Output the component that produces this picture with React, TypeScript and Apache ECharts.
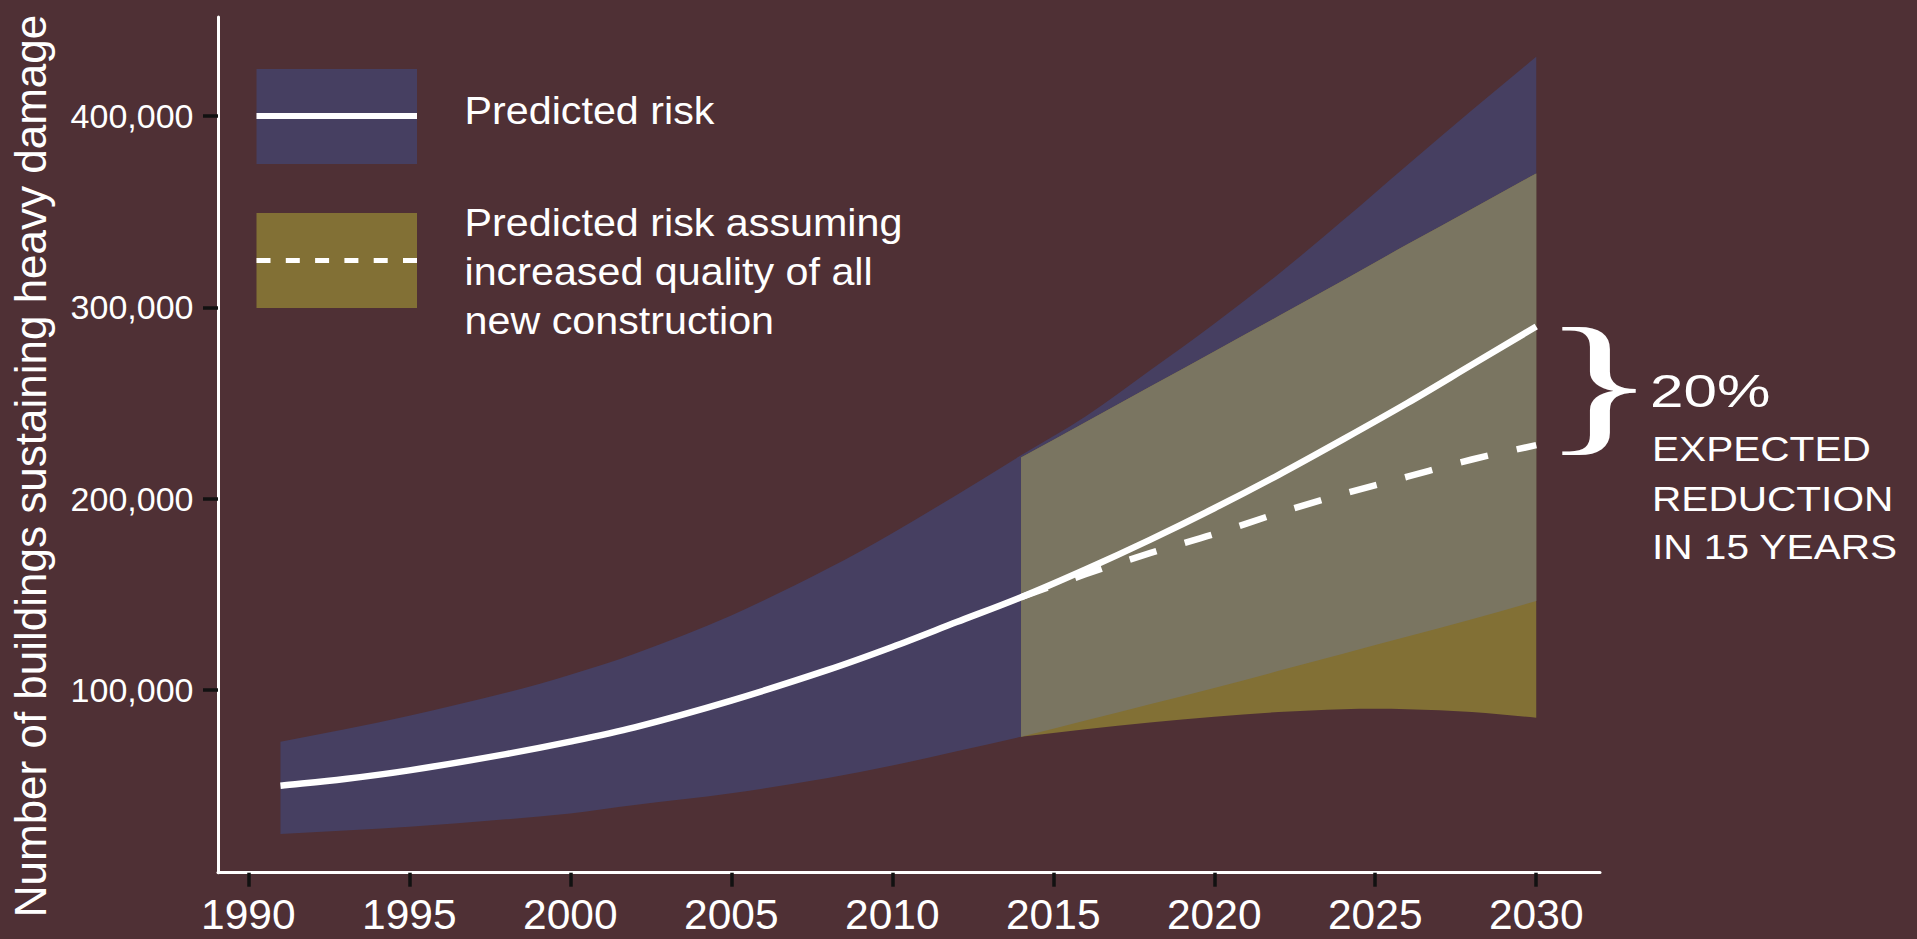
import React, { useEffect, useRef } from "react";
import * as echarts from "echarts";

// ---------- data ----------
const riskYears = [1991, 1993, 1995, 1998, 2000, 2002, 2005, 2008, 2010, 2012, 2014, 2016, 2018, 2020, 2022, 2024, 2026, 2028, 2030];
const riskMid = [50000, 53500, 58000, 66500, 73000, 80500, 94500, 110500, 122500, 135500, 148500, 163000, 178500, 195000, 212500, 231000, 250000, 270000, 290000];
const riskLower = [24700, 26500, 28500, 32400, 35500, 39900, 46000, 54000, 60500, 68000, 75500, 84000, 92500, 101000, 110000, 119000, 128000, 137000, 146500];
const riskUpper = [73000, 79500, 86500, 98500, 108000, 119000, 139000, 163500, 182000, 202000, 222700, 243000, 267000, 291500, 317500, 345500, 374500, 403000, 431000];

const improvedYears = [2014, 2016, 2018, 2020, 2022, 2024, 2026, 2028, 2030];
const improvedMid = [148500, 160500, 171500, 181500, 192500, 202500, 211500, 220500, 228000];
const improvedLower = [75500, 79500, 83000, 86000, 88500, 90000, 90000, 88500, 85500];
const improvedUpper = [221500, 240000, 258500, 277000, 295500, 314000, 333000, 351500, 370000];

const xTickValues = [1990, 1995, 2000, 2005, 2010, 2015, 2020, 2025, 2030];
const yTickValues = [100000, 200000, 300000, 400000];

const Y_TITLE = "Number of buildings sustaining heavy damage";
const LEGEND_RISK = "Predicted risk";
const LEGEND_IMPROVED = ["Predicted risk assuming", "increased quality of all", "new construction"];
const NOTE_PCT = "20%";
const NOTE_LINES = ["EXPECTED", "REDUCTION", "IN 15 YEARS"];

// ---------- styles ----------
const BG = "#4F3035";
const BLUE = "#463F61";
const OLIVE = "#827035";
const GREY = "#7A7561";
const SANS = '"Liberation Sans", Arimo, Helvetica, Arial, sans-serif';
const SERIF = '"Liberation Serif", "DejaVu Serif", Times, serif';

// overlap of the two bands, derived from the band arrays
const overlapLower = improvedYears.map((y, i) => Math.max(riskLower[riskYears.indexOf(y)], improvedLower[i]));
const overlapUpper = improvedYears.map((y, i) => Math.min(riskUpper[riskYears.indexOf(y)], improvedUpper[i]));

type Pt = number[];

function slopes(pts: Pt[]): number[] {
  const n = pts.length;
  return pts.map((p, i) => {
    const a = pts[Math.max(0, i - 1)];
    const b = pts[Math.min(n - 1, i + 1)];
    return (b[1] - a[1]) / (b[0] - a[0]);
  });
}

// smooth curve through screen points (left -> right)
function curve(pts: Pt[], start: "M" | "L"): string {
  const m = slopes(pts);
  let d = `${start}${pts[0][0]} ${pts[0][1]}`;
  for (let i = 0; i < pts.length - 1; i++) {
    const [x1, y1] = pts[i];
    const [x2, y2] = pts[i + 1];
    const h = x2 - x1;
    d += ` C${x1 + h / 3} ${y1 + (m[i] * h) / 3} ${x2 - h / 3} ${y2 - (m[i + 1] * h) / 3} ${x2} ${y2}`;
  }
  return d;
}

// same curve, traversed right -> left
function reverseCurve(pts: Pt[]): string {
  const m = slopes(pts);
  const n = pts.length;
  let d = `L${pts[n - 1][0]} ${pts[n - 1][1]}`;
  for (let i = n - 1; i > 0; i--) {
    const [x2, y2] = pts[i];
    const [x1, y1] = pts[i - 1];
    const h = x2 - x1;
    d += ` C${x2 - h / 3} ${y2 - (m[i] * h) / 3} ${x1 + h / 3} ${y1 + (m[i - 1] * h) / 3} ${x1} ${y1}`;
  }
  return d;
}

function bandSeries(name: string, xs: number[], lo: number[], hi: number[], color: string) {
  return {
    type: "custom",
    name,
    silent: true,
    data: xs.map((x, i) => [x, lo[i], hi[i]]),
    encode: { x: 0, y: [1, 2] },
    renderItem: (params: any, api: any) => {
      if (params.dataIndex !== 0) return null;
      const top = xs.map((x, i) => api.coord([x, hi[i]]));
      const bot = xs.map((x, i) => api.coord([x, lo[i]]));
      return {
        type: "path",
        shape: { pathData: curve(top, "M") + " " + reverseCurve(bot) + " Z" },
        style: { fill: color, stroke: "none" },
      };
    },
  };
}

function lineSeries(name: string, xs: number[], ys: number[], dash: number[] | null) {
  return {
    type: "custom",
    name,
    silent: true,
    data: xs.map((x, i) => [x, ys[i]]),
    encode: { x: 0, y: 1 },
    renderItem: (params: any, api: any) => {
      if (params.dataIndex !== 0) return null;
      const pts = xs.map((x, i) => api.coord([x, ys[i]]));
      return {
        type: "path",
        shape: { pathData: curve(pts, "M") },
        style: {
          fill: "none",
          stroke: "#FFFFFF",
          lineWidth: 6.5,
          lineDash: dash || undefined,
          lineCap: "butt",
        },
      };
    },
  };
}

function text(t: string, x: number, y: number, size: number, extra: any = {}, styleExtra: any = {}) {
  return {
    type: "text",
    x,
    y,
    silent: true,
    ...extra,
    style: {
      text: t,
      fill: "#FFFFFF",
      fontSize: size,
      fontFamily: SANS,
      align: "left",
      verticalAlign: "middle",
      textAlign: "left",
      textVerticalAlign: "middle",
      ...styleExtra,
    },
  };
}

export default function App() {
  const ref = useRef<HTMLDivElement>(null);
  useEffect(() => {
    document.body.style.margin = "0";
    document.body.style.background = BG;
    document.body.style.overflow = "hidden";
    const chart = echarts.init(ref.current!, null, { renderer: "svg" });
    const option: any = {
      animation: false,
      backgroundColor: BG,
      grid: { left: 218, right: 317, top: 17, bottom: 66.3, containLabel: false, outerBoundsMode: "none" },
      xAxis: {
        type: "value",
        min: 1989.06,
        max: 2031.98,
        axisLine: { show: true, onZero: false, lineStyle: { color: "#FFFFFF", width: 3 } },
        axisTick: { show: true, customValues: xTickValues, length: 14, lineStyle: { color: "#111111", width: 3.5 } },
        axisLabel: {
          customValues: xTickValues,
          margin: 26.5,
          lineHeight: 30,
          fontSize: 42.5,
          fontFamily: SANS,
          color: "#FFFFFF",
          formatter: (v: number) => String(Math.round(v)),
        },
        splitLine: { show: false },
      },
      yAxis: {
        type: "value",
        min: 4500,
        max: 451800,
        axisLine: { show: true, onZero: false, lineStyle: { color: "#FFFFFF", width: 3 } },
        axisTick: { show: true, customValues: yTickValues, length: 15, lineStyle: { color: "#111111", width: 3.5 } },
        axisLabel: {
          customValues: yTickValues,
          margin: 24.5,
          fontSize: 34,
          fontFamily: SANS,
          color: "#FFFFFF",
          formatter: (v: number) => Math.round(v).toLocaleString("en-US"),
        },
        splitLine: { show: false },
      },
      series: [
        bandSeries("Predicted risk band", riskYears, riskLower, riskUpper, BLUE),
        bandSeries("Improved construction band", improvedYears, improvedLower, improvedUpper, OLIVE),
        bandSeries("Overlap", improvedYears, overlapLower, overlapUpper, GREY),
        lineSeries("Predicted risk", riskYears, riskMid, null),
        lineSeries("Predicted risk assuming increased quality", improvedYears, improvedMid, [28, 29.5]),
      ],
      graphic: [
        text(Y_TITLE, 30, 466, 44, { rotation: Math.PI / 2 }, { align: "center", textAlign: "center" }),
        { type: "rect", silent: true, shape: { x: 256.5, y: 69, width: 160.5, height: 95 }, style: { fill: BLUE } },
        { type: "line", silent: true, shape: { x1: 256.5, y1: 116, x2: 417, y2: 116 }, style: { stroke: "#FFFFFF", lineWidth: 6 } },
        { type: "rect", silent: true, shape: { x: 256.5, y: 213, width: 160.5, height: 95 }, style: { fill: OLIVE } },
        { type: "line", silent: true, shape: { x1: 256.5, y1: 260.5, x2: 417, y2: 260.5 }, style: { stroke: "#FFFFFF", lineWidth: 5, lineDash: [14, 15.3] } },
        text(LEGEND_RISK, 464.5, 110.3, 39.5, { scaleX: 1.045 }),
        text(LEGEND_IMPROVED[0], 464.5, 222.2, 39.5, { scaleX: 1.045 }),
        text(LEGEND_IMPROVED[1], 464.5, 271.5, 39.5, { scaleX: 1.045 }),
        text(LEGEND_IMPROVED[2], 464.5, 320.5, 39.5, { scaleX: 1.045 }),
        text("}", 1540, 381.5, 155.6, { scaleX: 1.58 }, { fontFamily: SERIF }),
        text(NOTE_PCT, 1650, 390, 47, { scaleX: 1.28 }),
        text(NOTE_LINES[0], 1652, 449, 35, { scaleX: 1.16 }),
        text(NOTE_LINES[1], 1652, 499, 35, { scaleX: 1.16 }),
        text(NOTE_LINES[2], 1652, 546.5, 35, { scaleX: 1.16 }),
      ],
    };
    chart.setOption(option);
    return () => chart.dispose();
  }, []);
  return <div ref={ref} style={{ width: 1917, height: 939 }} />;
}
